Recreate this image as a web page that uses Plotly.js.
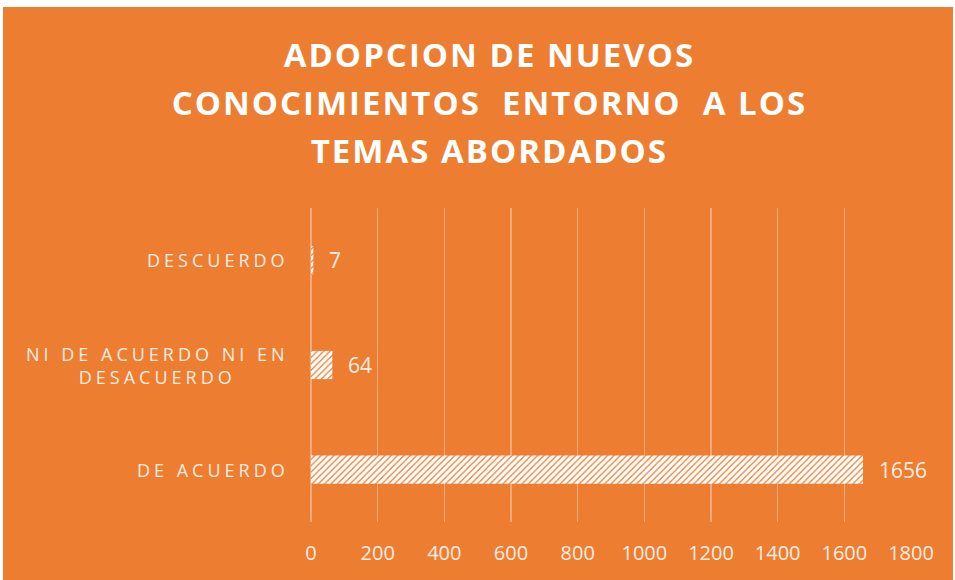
<!DOCTYPE html>
<html>
<head>
<meta charset="utf-8">
<script src="https://cdn.plot.ly/plotly-3.0.1.min.js"></script>
<style>
html,body{margin:0;padding:0;background:#ffffff;}
#chart{position:absolute;left:3px;top:7px;width:950px;height:573px;}
</style>
</head>
<body>
<div id="chart"></div>
<script>
const categories = ["DE ACUERDO", "NI DE ACUERDO NI EN<br>DESACUERDO", "DESCUERDO"];
const values = [1656, 64, 7];
const xTicks = [0, 200, 400, 600, 800, 1000, 1200, 1400, 1600, 1800];
const titleText = "ADOPCION DE NUEVOS<br>CONOCIMIENTOS  ENTORNO  A LOS<br>TEMAS ABORDADOS";

const ORANGE = "#ED7D31";
const LABEL = "#FDEEE3";
const SP = 4;

const trace = {
  type: "bar",
  orientation: "h",
  x: values,
  y: categories,
  width: 0.27,
  marker: {
    color: ORANGE,
    line: {width: 0},
    pattern: {shape: "/", fgcolor: "#ffffff", bgcolor: ORANGE, size: 4.5, solidity: 0.72, fillmode: "replace"}
  },
  hoverinfo: "none"
};

const annotations = [];
categories.forEach((c, i) => {
  const n = Math.max(...c.split("<br>").map(s => s.length));
  annotations.push({
    x: 0, y: c, xref: "x", yref: "y",
    text: c, showarrow: false, xanchor: "right", yanchor: "middle",
    align: "center", xshift: -24 - (n * SP / 2 - SP),
    font: {family: "Open Sans", size: 18, color: LABEL}
  });
  annotations.push({
    x: values[i], y: c, xref: "x", yref: "y",
    text: String(values[i]), showarrow: false, xanchor: "left", yanchor: "middle",
    xshift: 14,
    font: {family: "Open Sans", size: 21, color: LABEL}
  });
});

const layout = {
  width: 950, height: 573,
  paper_bgcolor: ORANGE, plot_bgcolor: ORANGE,
  margin: {l: 308, r: 42, t: 201, b: 58},
  title: {
    text: titleText,
    x: 0.512, xanchor: "center", y: 0.9, yanchor: "top",
    font: {family: "Open Sans", size: 33, color: "#ffffff", weight: "bold"}
  },
  xaxis: {
    range: [0, 1800],
    tickvals: xTicks,
    ticktext: xTicks.map(String),
    showgrid: true, gridcolor: "rgba(255,255,255,0.35)", gridwidth: 1.5,
    zeroline: true, zerolinecolor: "rgba(255,255,255,0.35)", zerolinewidth: 1.5,
    showline: false,
    ticks: "", ticklabelstandoff: 17,
    tickfont: {family: "Open Sans", size: 20, color: LABEL},
    fixedrange: true
  },
  yaxis: {
    type: "category",
    categoryorder: "array", categoryarray: categories,
    range: [-0.5, 2.5],
    showticklabels: false, showgrid: false, zeroline: false, showline: false, ticks: "",
    fixedrange: true
  },
  annotations: annotations,
  showlegend: false
};

Plotly.newPlot("chart", [trace], layout, {displayModeBar: false, staticPlot: true}).then(() => {
  document.querySelectorAll(".gtitle").forEach(t => {
    t.setAttribute("letter-spacing", "2");
    t.setAttribute("y", "60");
    const lines = t.querySelectorAll("tspan.line");
    lines.forEach((ln, k) => {
      ln.setAttribute("y", String(60 + 48 * k));
      ln.setAttribute("dy", "0");
    });
  });
  document.querySelectorAll(".annotation-text").forEach(t => {
    if (/[A-Z]/.test(t.textContent)) t.setAttribute("letter-spacing", String(SP));
  });
});
</script>
</body>
</html>
